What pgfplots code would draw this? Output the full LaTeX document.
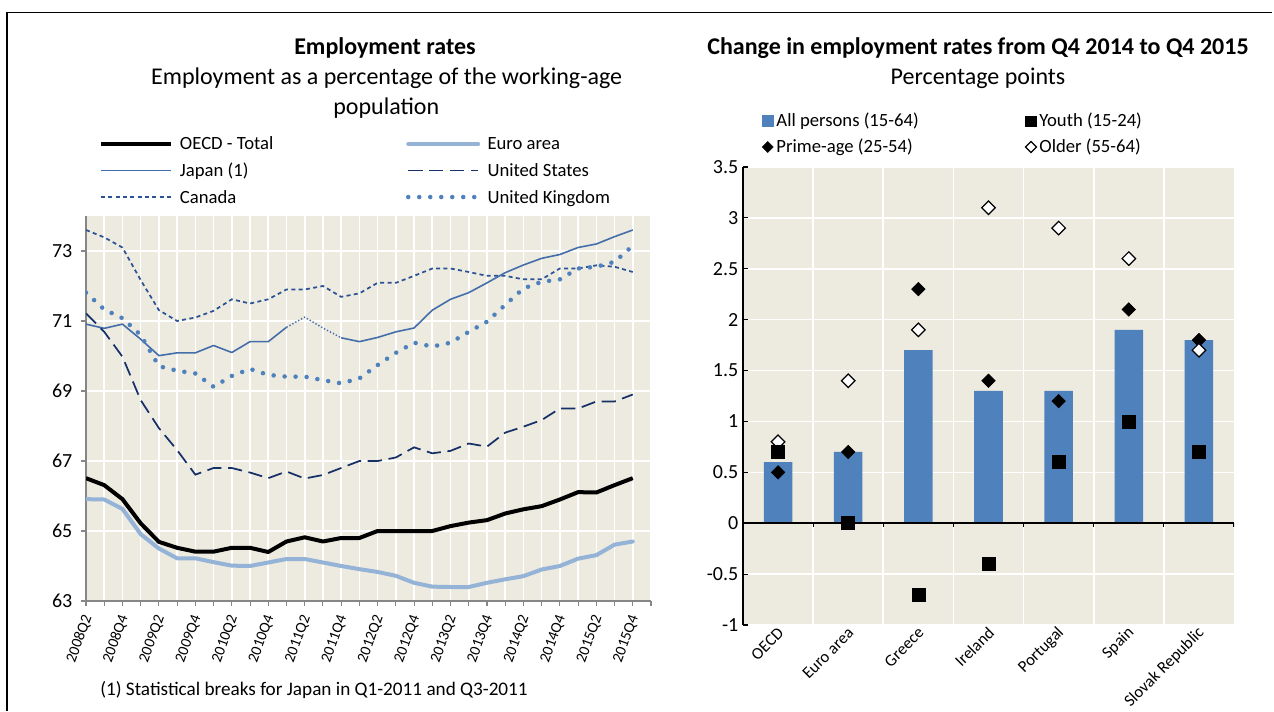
\documentclass[border=0pt]{standalone}
\usepackage{fontspec}
\setmainfont{Carlito}
\usepackage{pgfplots}
\pgfplotsset{compat=1.18}

\definecolor{bg}{RGB}{237,234,224}
\definecolor{euro}{RGB}{149,179,215}
\definecolor{japan}{RGB}{68,110,170}
\definecolor{usnavy}{RGB}{22,48,104}
\definecolor{canada}{RGB}{42,82,148}
\definecolor{ukblue}{RGB}{79,129,189}
\definecolor{barblue}{RGB}{79,129,189}
\definecolor{axisgray}{RGB}{134,134,134}

\begin{document}
\begin{tikzpicture}
\path[use as bounding box] (0,0) rectangle (955.5pt,533.25pt);
\draw[line width=1.1pt] (5.25pt,523.9pt) -- (954pt,523.9pt);
\draw[line width=1.1pt] (5.25pt,523.9pt) -- (5.25pt,0pt);

% ---------- titles ----------
\node[anchor=base, font=\fontsize{18}{21}\selectfont\bfseries] at (288.75pt,492pt) {Employment rates};
\node[anchor=base, font=\fontsize{18}{21}\selectfont] at (290pt,469.5pt) {Employment as a percentage of the working-age};
\node[anchor=base, font=\fontsize{18}{21}\selectfont] at (289.7pt,447.5pt) {population};
\node[anchor=base, font=\fontsize{18}{21}\selectfont\bfseries] at (733.5pt,492pt) {Change in employment rates from Q4 2014 to Q4 2015};
\node[anchor=base, font=\fontsize{18}{21}\selectfont] at (733.5pt,469.5pt) {Percentage points};
\node[anchor=base west, inner sep=0pt, font=\fontsize{14.4}{16}\selectfont] at (75pt,12pt) {(1) Statistical breaks for Japan in Q1-2011 and Q3-2011};

% ---------- left chart ----------
\begin{axis}[
  at={(64.5pt,82.5pt)}, anchor=south west,
  width=423.75pt, height=288.75pt, scale only axis,
  xmin=0, xmax=31, ymin=63, ymax=74,
  axis background/.style={fill=bg},
  axis x line*=bottom, axis y line*=left,
  axis line style={axisgray, line width=1.1pt},
  xtick={0,2,...,30},
  xticklabels={2008Q2,2008Q4,2009Q2,2009Q4,2010Q2,2010Q4,2011Q2,2011Q4,2012Q2,2012Q4,2013Q2,2013Q4,2014Q2,2014Q4,2015Q2,2015Q4},
  minor xtick={1,3,...,31},
  ytick={63,65,...,73},
  xmajorgrids, xminorgrids, ymajorgrids,
  major grid style={white, line width=1.2pt},
  minor grid style={white, line width=1.2pt},
  tick align=outside,
  major tick length=3.75pt, minor tick length=3.75pt,
  every tick/.style={axisgray, line width=0.8pt},
  x tick label style={xshift=2.5pt, yshift=-4pt, rotate=70, anchor=east, font=\fontsize{11.5}{13}\selectfont},
  y tick label style={xshift=-3pt, font=\fontsize{15}{17}\selectfont},
  /pgf/number format/assume math mode=true,
  legend columns=2,
  legend cell align=left,
  legend image code/.code={\draw[#1] (0pt,0pt) -- (52.5pt,0pt);},
  legend style={at={(axis description cs:0.0230,1.2130)}, anchor=north west,
    draw=none, fill=none, inner sep=0pt, outer sep=0pt, row sep=4.9pt,
    font=\fontsize{14}{16}\selectfont,
    nodes={inner sep=0pt, text height=12pt, text depth=3pt},
    /tikz/every odd column/.append style={column sep=5.25pt},
    /tikz/every even column/.append style={column sep=5.5pt}},
]
% OECD - Total
\addplot[black, line width=3pt, line join=round] coordinates {
(0,66.51) (1,66.31) (2,65.91) (3,65.22) (4,64.69) (5,64.52) (6,64.41) (7,64.41) (8,64.52) (9,64.52)
(10,64.40) (11,64.70) (12,64.82) (13,64.70) (14,64.80) (15,64.80) (16,65.00) (17,65.00) (18,65.00) (19,65.00)
(20,65.14) (21,65.24) (22,65.31) (23,65.50) (24,65.62) (25,65.71) (26,65.90) (27,66.11) (28,66.10) (29,66.31) (30,66.51)};
\addlegendentry{\makebox[164pt][l]{OECD - Total}}
% Euro area
\addplot[euro, line width=3pt, line join=round, line cap=round] coordinates {
(0,65.91) (1,65.90) (2,65.63) (3,64.91) (4,64.50) (5,64.22) (6,64.22) (7,64.11) (8,64.01) (9,64.00)
(10,64.10) (11,64.20) (12,64.20) (13,64.10) (14,64.00) (15,63.91) (16,63.83) (17,63.72) (18,63.52) (19,63.41)
(20,63.40) (21,63.40) (22,63.52) (23,63.62) (24,63.71) (25,63.90) (26,64.00) (27,64.21) (28,64.31) (29,64.61) (30,64.70)};
\addlegendentry{Euro area}
% Japan (1)
\addplot[japan, line width=1.2pt, line join=round] coordinates {
(0,70.91) (1,70.79) (2,70.91) (3,70.48) (4,70.01) (5,70.09) (6,70.09) (7,70.30) (8,70.10) (9,70.41)
(10,70.41) (11,70.82)};
\addlegendentry{\makebox[164pt][l]{Japan (1)}}
% United States
\addplot[usnavy, line width=1.3pt, dash pattern=on 10.7pt off 5pt] coordinates {
(0,71.22) (1,70.69) (2,69.98) (3,68.74) (4,67.94) (5,67.31) (6,66.61) (7,66.80) (8,66.80) (9,66.67)
(10,66.51) (11,66.70) (12,66.50) (13,66.60) (14,66.80) (15,67.00) (16,67.00) (17,67.10) (18,67.39) (19,67.22)
(20,67.29) (21,67.50) (22,67.41) (23,67.81) (24,67.98) (25,68.17) (26,68.50) (27,68.50) (28,68.70) (29,68.70) (30,68.90)};
\addlegendentry{United States}
% Canada
\addplot[canada, line width=1.3pt, dash pattern=on 3pt off 2.5pt] coordinates {
(0,73.60) (1,73.39) (2,73.10) (3,72.17) (4,71.31) (5,71.00) (6,71.10) (7,71.29) (8,71.62) (9,71.50)
(10,71.62) (11,71.90) (12,71.90) (13,72.00) (14,71.69) (15,71.79) (16,72.09) (17,72.09) (18,72.29) (19,72.50)
(20,72.50) (21,72.40) (22,72.29) (23,72.29) (24,72.19) (25,72.19) (26,72.50) (27,72.50) (28,72.59) (29,72.55) (30,72.40)};
\addlegendentry{\makebox[164pt][l]{Canada}}
% United Kingdom
\addplot[ukblue, line width=3.4pt, line cap=round, dash pattern=on 0pt off 8.25pt] coordinates {
(0,71.81) (1,71.33) (2,71.08) (3,70.60) (4,69.71) (5,69.58) (6,69.50) (7,69.12) (8,69.43) (9,69.63)
(10,69.46) (11,69.41) (12,69.41) (13,69.31) (14,69.22) (15,69.36) (16,69.74) (17,70.09) (18,70.38) (19,70.27)
(20,70.38) (21,70.69) (22,70.98) (23,71.46) (24,71.93) (25,72.12) (26,72.19) (27,72.50) (28,72.55) (29,72.69) (30,73.15)};
\addlegendentry{United Kingdom}
% Japan: break segment and rest
\addplot[japan, line width=1.1pt, dash pattern=on 1pt off 1.5pt, forget plot] coordinates {
(11,70.82) (12,71.11) (13,70.80) (14,70.52)};
\addplot[japan, line width=1.2pt, line join=round, forget plot] coordinates {
(14,70.52) (15,70.41) (16,70.53) (17,70.69) (18,70.80) (19,71.31)
(20,71.62) (21,71.81) (22,72.09) (23,72.38) (24,72.60) (25,72.79) (26,72.90) (27,73.10) (28,73.20) (29,73.41) (30,73.60)};
\end{axis}

% ---------- right chart ----------
\begin{axis}[
  at={(557.25pt,64.5pt)}, anchor=south west,
  width=368.25pt, height=343.5pt, scale only axis,
  xmin=-0.5, xmax=6.5, ymin=-1, ymax=3.5,
  axis background/.style={fill=bg},
  axis x line*=bottom, axis y line*=left,
  x axis line style={draw=none},
  y axis line style={black, line width=1.1pt},
  xtick={0,1,...,6},
  xticklabels={OECD,Euro area,Greece,Ireland,Portugal,Spain,Slovak Republic},
  minor xtick={0.5,1.5,...,5.5},
  xminorgrids, ymajorgrids,
  minor grid style={white, line width=1.2pt},
  major grid style={white, line width=1.2pt},
  ytick={-1,-0.5,0,0.5,1,1.5,2,2.5,3,3.5},
  yticklabels={-1,-0.5,0,0.5,1,1.5,2,2.5,3,3.5},
  x tick style={draw=none},
  y tick style={black, line width=0.8pt},
  tick align=inside,
  major tick length=3.75pt,
  x tick label style={xshift=4.5pt, yshift=-1.5pt, rotate=45, anchor=east, font=\fontsize{12.5}{14}\selectfont},
  y tick label style={font=\fontsize{15}{17}\selectfont},
  legend columns=2,
  legend cell align=left,
  legend image code/.code={\draw[#1] plot coordinates {(0pt,0pt)};},
  legend style={at={(axis description cs:0.0387,1.1223)}, anchor=north west,
    draw=none, fill=none, inner sep=0pt, outer sep=0pt, row sep=4.5pt,
    font=\fontsize{14}{16}\selectfont,
    nodes={inner sep=0pt, text height=12pt, text depth=3pt},
    /tikz/every odd column/.append style={column sep=2.25pt},
    /tikz/every even column/.append style={column sep=6.75pt}},
]
\addlegendimage{legend image code/.code={\fill[barblue] (-4.1pt,-4.1pt) rectangle (4.1pt,4.1pt);}}
\addlegendentry{\makebox[180pt][l]{All persons (15-64)}}
\addlegendimage{only marks, mark=square*, mark size=3.9pt, black}
\addlegendentry{Youth (15-24)}
\addlegendimage{only marks, mark=square*, mark size=2.9pt, black, mark options={rotate=45}}
\addlegendentry{\makebox[180pt][l]{Prime-age (25-54)}}
\addlegendimage{only marks, mark=square*, mark size=2.9pt, mark options={rotate=45, fill=white, draw=black, line width=0.9pt}}
\addlegendentry{Older (55-64)}

\addplot[ybar, bar width=21.4pt, fill=barblue, draw=none, forget plot] coordinates {
(0,0.6) (1,0.7) (2,1.7) (3,1.3) (4,1.3) (5,1.9) (6,1.8)};
\addplot[only marks, mark=square*, mark size=3.6pt, black, mark options={rotate=45}, forget plot] coordinates {
(0,0.5) (1,0.7) (2,2.3) (3,1.4) (4,1.2) (5,2.1) (6,1.8)};
\addplot[only marks, mark=square*, mark size=3.6pt, mark options={rotate=45, fill=white, draw=black, line width=0.9pt}, forget plot] coordinates {
(0,0.8) (1,1.4) (2,1.9) (3,3.1) (4,2.9) (5,2.6) (6,1.7)};
\addplot[only marks, mark=square*, mark size=4.9pt, black, forget plot] coordinates {
(0,0.7) (1,0.0) (2,-0.7) (3,-0.4) (4,0.6) (5,1.0) (6,0.7)};
\draw[black, line width=1.1pt] (axis cs:-0.5,0) -- (axis cs:6.5,0);
\pgfplotsinvokeforeach{0.5,1.5,2.5,3.5,4.5,5.5,6.5}{
  \draw[black, line width=0.8pt] (axis cs:#1,0) -- ++(0pt,-3pt);
}
\end{axis}
\end{tikzpicture}
\end{document}
